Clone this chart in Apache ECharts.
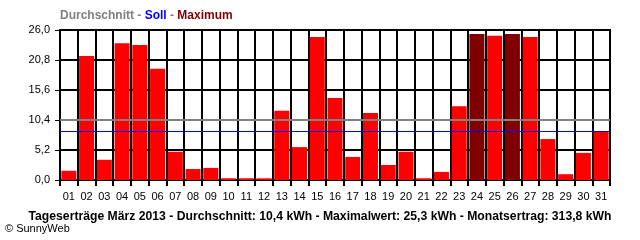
<!DOCTYPE html>
<html>
<head>
<meta charset="utf-8">
<script src="https://cdn.jsdelivr.net/npm/echarts@6/dist/echarts.min.js"></script>
<style>
html,body{margin:0;padding:0;background:#fff;}
#c{width:640px;height:240px;}
</style>
</head>
<body>
<div id="c"></div>
<script>
const categories = ['01','02','03','04','05','06','07','08','09','10','11','12','13','14','15','16','17','18','19','20','21','22','23','24','25','26','27','28','29','30','31'];
const values = [1.6,21.5,3.5,23.7,23.4,19.3,4.9,1.9,2.1,0.3,0.3,0.3,12.0,5.7,24.8,14.2,4.0,11.6,2.6,4.9,0.3,1.4,12.8,25.3,25.0,25.3,24.8,7.1,1.0,4.7,8.4];
const averageValue = 10.4;
const targetValue = 8.4;
const maxValue = 25.3;
const yTicks = [0, 5.2, 10.4, 15.6, 20.8, 26.0];
const footerText = 'Tageserträge März 2013 - Durchschnitt: 10,4 kWh - Maximalwert: 25,3 kWh - Monatsertrag: 313,8 kWh';

const chart = echarts.init(document.getElementById('c'), null, {renderer:'canvas'});
chart.setOption({
  backgroundColor:'#ffffff',
  animation:false,
  textStyle:{fontFamily:'Liberation Sans, Arial, sans-serif'},
  title:[{
    left:60, top:10, padding:0,
    text:'{g|Durchschnitt} {g|-} {b|Soll} {g|-} {r|Maximum}',
    textStyle:{
      fontSize:12,fontWeight:'bold',
      rich:{
        g:{color:'#808080',fontWeight:'bold',fontSize:12,fontFamily:'Liberation Sans'},
        b:{color:'#0000ff',fontWeight:'bold',fontSize:12,fontFamily:'Liberation Sans'},
        r:{color:'#800000',fontWeight:'bold',fontSize:12,fontFamily:'Liberation Sans'}
      }
    }
  },{
    left:'center', top:211, padding:0,
    text:footerText,
    textStyle:{color:'#000',fontWeight:'bold',fontSize:12.2,fontFamily:'Liberation Sans'}
  },{
    left:5, top:223, padding:0,
    text:'© SunnyWeb',
    textStyle:{color:'#000',fontWeight:'normal',fontSize:11,fontFamily:'Liberation Sans'}
  }],
  grid:{left:60, top:30, width:550, height:150, show:true, borderColor:'#000', borderWidth:2, backgroundColor:'transparent'},
  xAxis:{
    type:'category',
    data:categories,
    boundaryGap:true,
    axisLine:{show:true,lineStyle:{color:'#000',width:2}},
    axisTick:{show:true,length:6,lineStyle:{color:'#000',width:2}},
    axisLabel:{color:'#000',fontSize:11,margin:11,fontFamily:'Liberation Sans'},
    splitLine:{show:true,lineStyle:{color:'#000',width:2}}
  },
  yAxis:{
    type:'value',
    min:yTicks[0], max:yTicks[yTicks.length-1], interval:yTicks[1],
    axisLine:{show:true,lineStyle:{color:'#000',width:2}},
    axisTick:{show:true,length:5,lineStyle:{color:'#000',width:1}},
    axisLabel:{color:'#000',fontSize:11,margin:10,fontFamily:'Liberation Sans',
      formatter:v=>v.toFixed(1).replace('.',',')},
    splitLine:{show:true,lineStyle:{color:'#000',width:2}}
  },
  series:[{
    type:'bar',
    data:values,
    barWidth:15,
    itemStyle:{color:p=>p.value>=maxValue?'#800000':'#ff0000'},
    markLine:{
      silent:true,
      symbol:'none',
      label:{show:false},
      emphasis:{disabled:true},
      data:[
        {yAxis:averageValue,lineStyle:{color:'#808080',width:2,type:'solid'}},
        {yAxis:targetValue,lineStyle:{color:'#0000ff',width:1,type:'solid'}}
      ]
    }
  }]
});
</script>
</body>
</html>
